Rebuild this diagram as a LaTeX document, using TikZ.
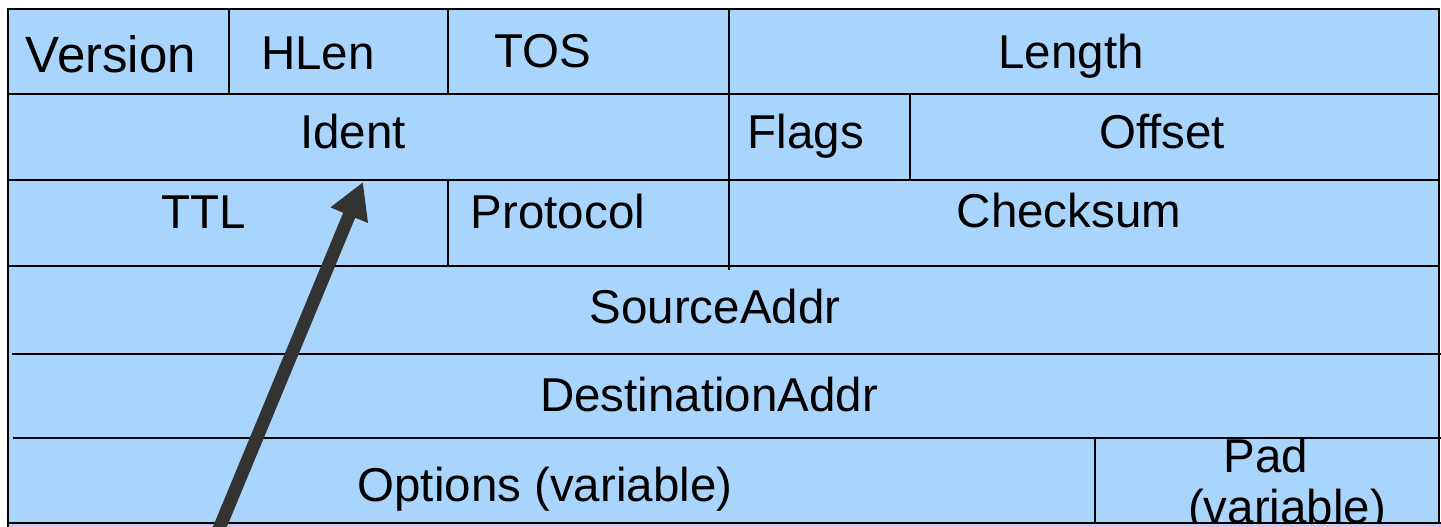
\documentclass[tikz,border=0pt]{standalone}
\usepackage{fontspec}
\setmainfont{Liberation Sans}
\usetikzlibrary{arrows.meta}
\definecolor{cellblue}{RGB}{169,213,253}
\definecolor{nextlav}{RGB}{214,198,234}
\definecolor{arrowgray}{RGB}{51,51,51}
\tikzset{
  grid/.style={draw=black, line width=2pt},
  outer/.style={draw=black, line width=2.6pt},
  lbl/.style={anchor=base, inner sep=0pt, font=\fontsize{47.5}{52}\selectfont},
  biglbl/.style={anchor=base, inner sep=0pt, font=\fontsize{51}{56}\selectfont},
  pointer/.style={draw=arrowgray, line width=13pt, -{Triangle[length=36pt,width=38pt]}}
}
\begin{document}
\begin{tikzpicture}[x=1pt,y=-1pt]
\useasboundingbox (0,0) rectangle (1441,527);
\clip (0,0) rectangle (1441,527);
% header area
\fill[cellblue] (8,9) rectangle (1439,540);
% horizontal lines between rows
\draw[grid] (8,94) -- (1439,94);
\draw[grid] (8,180) -- (1439,180);
\draw[grid] (8,266) -- (1439,266);
\draw[grid] (12,354) -- (1441,354);
\draw[grid] (13,438) -- (1441,438);
% vertical separators
\draw[grid] (229,9) -- (229,94);
\draw[grid] (448,9) -- (448,94);
\draw[grid] (729,9) -- (729,270);
\draw[grid] (910,94) -- (910,180);
\draw[grid] (448,180) -- (448,266);
\draw[grid] (1095,438) -- (1095,527);
% outer border
\draw[outer] (8,540) -- (8,9) -- (1439,9) -- (1439,540);
% labels
\node[biglbl] (version) at (111,73) {Version};
\node[lbl] (hlen) at (318,70) {HLen};
\node[lbl] (tos) at (543,67) {TOS};
\node[lbl] (length) at (1071,69) {Length};
\node[lbl] (ident) at (353,148) {Ident};
\node[lbl] (flags) at (806,148) {Flags};
\node[lbl] (offset) at (1162,148) {Offset};
\node[lbl] (ttl) at (204,228) {TTL};
\node[lbl] (protocol) at (558,228) {Protocol};
\node[lbl] (checksum) at (1069,227) {Checksum};
\node[lbl] (source) at (715,323) {SourceAddr};
\node[lbl] (dest) at (709,411) {DestinationAddr};
\node[lbl] (options) at (545,501) {Options (variable)};
\node[lbl] (pad) at (1266,472) {Pad};
\node[lbl] (padvar) at (1287,523) {(variable)};
% next box (below), partly visible
\fill[nextlav] (8,523) rectangle (1441,540);
\draw[grid] (8,523) -- (1441,523);
\draw[outer] (8,523) -- (8,540);
% pointer arrow
\coordinate (tail) at (214,541);
\coordinate (tip) at (363,182);
\draw[pointer] (tail) -- (tip);
\end{tikzpicture}
\end{document}
